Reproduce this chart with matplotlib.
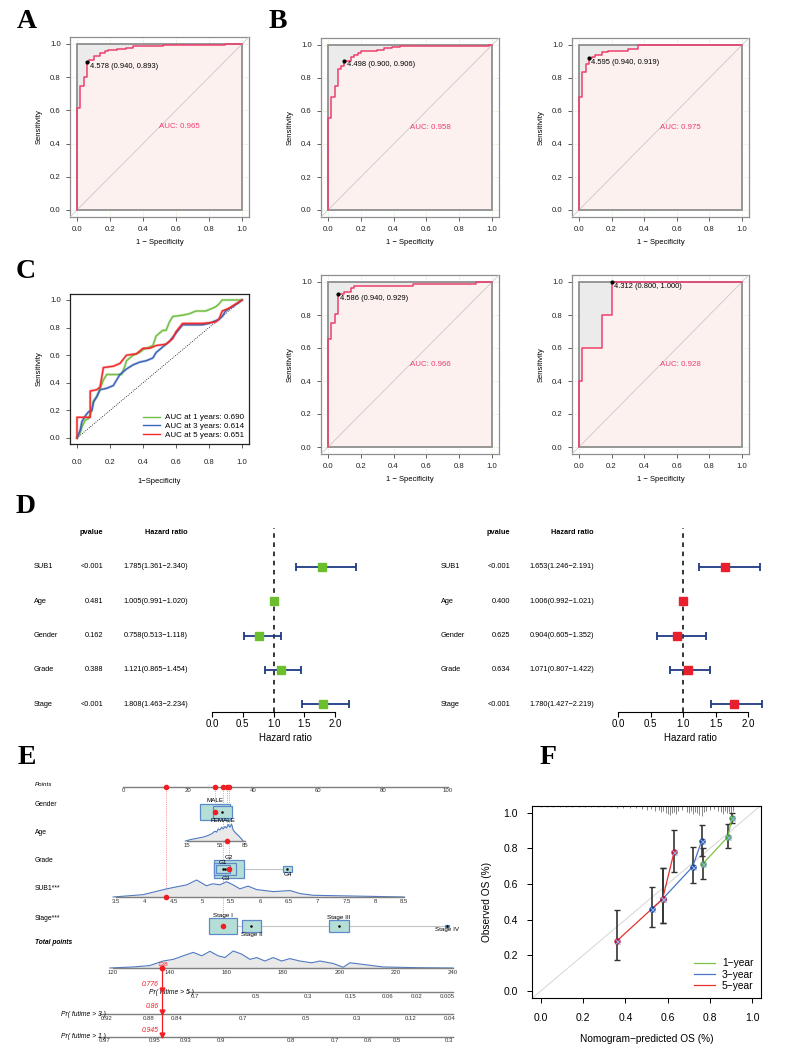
import numpy as np
import matplotlib
matplotlib.use("Agg")
import matplotlib.pyplot as plt
import matplotlib.transforms as mtransforms
from matplotlib.patches import Rectangle

plt.rcParams["font.family"] = ["Liberation Sans", "DejaVu Sans"]

# ---------------- ROC curves (A, B) : step vertices ----------------
a_fpr = [0.00, 0.00, 0.02, 0.04, 0.06, 0.07, 0.10, 0.14, 0.17, 0.19, 0.24, 0.30, 0.34, 0.38, 0.52, 0.90, 1.00]
a_tpr = [0.00, 0.614, 0.745, 0.800, 0.893, 0.905, 0.925, 0.945, 0.955, 0.965, 0.970, 0.975, 0.985, 0.990, 0.995, 1.000, 1.000]
b1_fpr = [0.00, 0.00, 0.02, 0.04, 0.06, 0.08, 0.10, 0.14, 0.16, 0.18, 0.20, 0.30, 0.34, 0.39, 0.44, 0.98, 1.00]
b1_tpr = [0.00, 0.556, 0.683, 0.754, 0.855, 0.875, 0.906, 0.925, 0.940, 0.953, 0.966, 0.970, 0.980, 0.988, 0.994, 1.000, 1.000]
b2_fpr = [0.00, 0.00, 0.02, 0.04, 0.06, 0.08, 0.10, 0.14, 0.18, 0.30, 0.36, 1.00]
b2_tpr = [0.00, 0.687, 0.838, 0.884, 0.919, 0.925, 0.940, 0.955, 0.965, 0.975, 1.000, 1.000]
b3_fpr = [0.00, 0.00, 0.02, 0.04, 0.06, 0.10, 0.14, 0.16, 0.52, 0.90, 1.00]
b3_tpr = [0.00, 0.657, 0.752, 0.808, 0.929, 0.940, 0.965, 0.976, 0.985, 1.000, 1.000]
b4_fpr = [0.00, 0.00, 0.02, 0.14, 0.20, 1.00]
b4_tpr = [0.00, 0.40, 0.60, 0.80, 1.00, 1.00]

roc_cut = [(0.06, 0.893), (0.10, 0.906), (0.06, 0.919), (0.06, 0.929), (0.20, 1.000)]
roc_cut_text = ["4.578 (0.940, 0.893)", "4.498 (0.900, 0.906)", "4.595 (0.940, 0.919)",
                "4.586 (0.940, 0.929)", "4.312 (0.800, 1.000)"]
roc_auc = ["0.965", "0.958", "0.975", "0.966", "0.928"]

# ---------------- time-dependent ROC (C) ----------------
c1_fpr = [0, 0.02, 0.03, 0.05, 0.07, 0.09, 0.10, 0.12, 0.14, 0.16, 0.18, 0.27, 0.29, 0.30, 0.34, 0.38, 0.40,
          0.44, 0.46, 0.48, 0.52, 0.54, 0.56, 0.58, 0.64, 0.68, 0.72, 0.78, 0.80, 0.84, 0.86, 0.88, 1.0]
c1_tpr = [0, 0.04, 0.08, 0.13, 0.14, 0.20, 0.27, 0.30, 0.36, 0.42, 0.46, 0.46, 0.52, 0.56, 0.60, 0.62, 0.64,
          0.66, 0.67, 0.74, 0.78, 0.78, 0.84, 0.88, 0.89, 0.90, 0.92, 0.92, 0.93, 0.95, 0.97, 1.0, 1.0]
c3_fpr = [0, 0.02, 0.03, 0.05, 0.07, 0.09, 0.10, 0.12, 0.14, 0.18, 0.22, 0.24, 0.26, 0.30, 0.34, 0.38, 0.42,
          0.46, 0.48, 0.52, 0.56, 0.60, 0.64, 0.70, 0.76, 0.80, 0.84, 0.86, 0.88, 0.90, 0.94, 0.98, 1.0]
c3_tpr = [0, 0.06, 0.12, 0.16, 0.19, 0.20, 0.26, 0.30, 0.35, 0.36, 0.38, 0.42, 0.46, 0.50, 0.53, 0.55, 0.56,
          0.58, 0.62, 0.66, 0.70, 0.76, 0.82, 0.82, 0.82, 0.83, 0.85, 0.86, 0.88, 0.92, 0.95, 0.98, 1.0]
c5_fpr = [0, 0, 0.08, 0.08, 0.12, 0.14, 0.16, 0.22, 0.26, 0.30, 0.36, 0.40, 0.44, 0.48, 0.54, 0.58, 0.60,
          0.64, 0.76, 0.84, 0.86, 0.88, 0.92, 0.96, 1.0]
c5_tpr = [0, 0.15, 0.15, 0.34, 0.35, 0.37, 0.51, 0.52, 0.54, 0.60, 0.61, 0.65, 0.65, 0.67, 0.68, 0.72, 0.77,
          0.83, 0.83, 0.84, 0.86, 0.92, 0.94, 0.97, 1.0]
c_labels = ["AUC at 1 years: 0.690", "AUC at 3 years: 0.614", "AUC at 5 years: 0.651"]

# ---------------- Cox forest plots (D) ----------------
forest_vars = ["SUB1", "Age", "Gender", "Grade", "Stage"]
uni_p = ["<0.001", "0.481", "0.162", "0.388", "<0.001"]
uni_hr = [1.785, 1.005, 0.758, 1.121, 1.808]
uni_lo = [1.361, 0.991, 0.513, 0.865, 1.463]
uni_hi = [2.340, 1.020, 1.118, 1.454, 2.234]
multi_p = ["<0.001", "0.400", "0.625", "0.634", "<0.001"]
multi_hr = [1.653, 1.006, 0.904, 1.071, 1.780]
multi_lo = [1.246, 0.992, 0.605, 0.807, 1.427]
multi_hi = [2.191, 1.021, 1.352, 1.422, 2.219]
hr_ticks = [0.0, 0.5, 1.0, 1.5, 2.0]

# ---------------- nomogram (E) ----------------
points_ticks = [0, 20, 40, 60, 80, 100]
gender_levels = ["MALE", "FEMALE"]
gender_pts = [28.3, 30.6]
gender_share = [0.53, 0.23]
age_range = [15, 85]
age_pts_range = [19.7, 37.5]
age_ticks = [15, 55, 85]
age_grid = [13, 18.6, 26.7, 34.7, 40.7, 44.8, 48.8, 50.8, 52.8, 54.8, 56.9, 58.8, 60.8, 62.9, 64.8,
            66.9, 68.9, 70.8, 72.9, 74.9, 78.9, 83]
age_dens = [0, 1.3, 2.7, 4.0, 5.7, 7.3, 10.0, 9.0, 12.3, 11.3, 14.0, 12.3, 14.7, 13.3, 16.7,
            14.0, 17.3, 11.3, 9.0, 7.3, 4.0, 0]
grade_levels = ["G1", "G2", "G3", "G4"]
grade_pts = [30.7, 32.7, 31.5, 50.6]
grade_share = [0.12, 0.56, 0.30, 0.05]
sub1_range = [3.5, 8.5]
sub1_pts_range = [-2.15, 86.5]
sub1_ticks = [3.5, 4, 4.5, 5, 5.5, 6, 6.5, 7, 7.5, 8, 8.5]
sub1_grid = [3.45, 3.97, 4.38, 4.73, 4.90, 5.07, 5.18, 5.30, 5.42, 5.53, 5.65, 5.79, 5.94, 6.23,
             6.52, 6.70, 6.92, 7.27, 7.85, 8.50]
sub1_dens = [0.0, 2.3, 8.0, 12.0, 16.7, 11.0, 13.0, 12.0, 15.0, 12.0, 8.0, 10.7, 7.3, 5.3,
             6.3, 3.3, 1.7, 1.3, 0.7, 0.0]
stage_levels = ["Stage I", "Stage II", "Stage III", "Stage IV"]
stage_pts = [30.7, 39.5, 66.5, 99.7]
stage_share = [0.49, 0.23, 0.25, 0.006]
total_range = [120, 240]
total_pts_range = [-3.17, 101.5]
total_ticks = [120, 140, 160, 180, 200, 220, 240]
total_grid = [119, 127.3, 133, 137.8, 141.4, 144.9, 148.4, 151.4, 154.3, 157.2, 159.6, 162.5, 165.5,
              168.4, 170.8, 173.7, 176.6, 179.6, 182.5, 186, 190.2, 193.1, 197.8, 201.3, 203.7,
              209.6, 215.4, 227.2, 240]
total_dens = [0, 1, 2.3, 6.7, 8.3, 11.7, 15, 11.7, 16, 11.7, 10, 16.3, 13.3,
              8.3, 10, 6.7, 10, 6.7, 9, 6.7, 5, 6.7, 4.3, 0.7, 5,
              3, 1, 0.3, 0]
pr5_labels = ["0.7", "0.5", "0.3", "0.15", "0.06", "0.02", "0.005"]
pr5_at = [149.0, 170.5, 188.9, 204.0, 217.1, 227.3, 237.9]
pr3_labels = ["0.92", "0.88", "0.84", "0.7", "0.5", "0.3", "0.12", "0.04"]
pr3_at = [118.0, 132.8, 142.7, 165.9, 188.2, 206.1, 225.2, 238.9]
pr1_labels = ["0.97", "0.95", "0.93", "0.9", "0.8", "0.7", "0.6", "0.5", "0.3"]
pr1_at = [117.3, 134.6, 145.8, 158.2, 182.9, 198.4, 210.0, 220.2, 238.6]
pr_axis_start = [146.6, 115.5, 115.5]
pat_gender, pat_age, pat_grade, pat_sub1, pat_stage = 0, 63.3, 1, 4.36, 0
pat_total = 137.5
pat_surv = ["0.776", "0.86", "0.945"]

# ---------------- calibration (F) ----------------
cal1_pred = [0.765, 0.885, 0.903]
cal1_obs = [0.712, 0.865, 0.968]
cal1_lo = [0.628, 0.800, 0.940]
cal1_hi = [0.800, 0.935, 1.000]
cal3_pred = [0.524, 0.576, 0.718, 0.761]
cal3_obs = [0.458, 0.516, 0.697, 0.843]
cal3_lo = [0.357, 0.383, 0.604, 0.757]
cal3_hi = [0.585, 0.688, 0.809, 0.931]
cal5_pred = [0.359, 0.576, 0.630]
cal5_obs = [0.280, 0.516, 0.778]
cal5_lo = [0.174, 0.383, 0.665]
cal5_hi = [0.454, 0.688, 0.903]
rug_x = [0.00, 0.03, 0.06, 0.09, 0.12, 0.15, 0.18, 0.21, 0.24, 0.27, 0.30, 0.33, 0.36, 0.39, 0.42, 0.45,
         0.48, 0.50, 0.52, 0.54, 0.56, 0.57, 0.58, 0.59, 0.60, 0.61, 0.62, 0.63, 0.64, 0.65, 0.67, 0.69,
         0.70, 0.71, 0.72, 0.73, 0.74, 0.75, 0.76, 0.77, 0.78, 0.80, 0.82, 0.84, 0.85, 0.86, 0.87, 0.88,
         0.89, 0.90, 0.91]
rug_n = [1, 1, 1, 1, 1, 1, 1, 1, 1, 1, 1.5, 1.5, 2, 2, 2, 2.5,
         3, 4, 3, 5, 4, 6, 5, 7, 8, 9, 7, 6, 8, 5, 4, 6,
         7, 5, 8, 6, 7, 9, 10, 6, 5, 4, 3, 5, 6, 8, 5, 7,
         6, 8, 5]
cal_labels = ["1\u2212year", "3\u2212year", "5\u2212year"]

W, H = 787, 1061
fig = plt.figure(figsize=(W / 100, H / 100), dpi=100)

PINK = "#EE3F6D"
MINUS = "\u2212"


def px_axes(left, top, right, bottom):
    return fig.add_axes([left / W, 1 - bottom / H, (right - left) / W, (bottom - top) / H])


def data_axes(xa, xb, pa, pb, ya, yb, qa, qb, xlim, ylim):
    """axes where data xa->pixel pa, xb->pb and ya->qa, yb->qb"""
    sx = (pb - pa) / (xb - xa)
    sy = (qb - qa) / (yb - ya)
    left = pa + (xlim[0] - xa) * sx
    right = pa + (xlim[1] - xa) * sx
    y_lo = qa + (ylim[0] - ya) * sy
    y_hi = qa + (ylim[1] - ya) * sy
    ax = px_axes(left, min(y_lo, y_hi), right, max(y_lo, y_hi))
    ax.set_xlim(xlim)
    ax.set_ylim(ylim)
    return ax


def roc_axes(x0, x1, y1, y0, frame_col):
    ax = data_axes(0, 1, x0, x1, 0, 1, y0, y1, (-0.04, 1.04), (-0.04, 1.04))
    ticks = [0, 0.2, 0.4, 0.6, 0.8, 1.0]
    ax.set_xticks(ticks)
    ax.set_yticks(ticks)
    ax.set_xticklabels([f"{t:.1f}" for t in ticks])
    ax.set_yticklabels([f"{t:.1f}" for t in ticks])
    ax.tick_params(labelsize=5.6, length=3, width=0.6, color="#444444", pad=4, labelcolor="#222222")
    for s in ax.spines.values():
        s.set_color(frame_col)
        s.set_linewidth(0.9)
    ax.set_ylabel("Sensitivity", fontsize=5.5, labelpad=5)
    return ax


def roc_panel(x0, x1, y1, y0, fpr, tpr, k):
    ax = roc_axes(x0, x1, y1, y0, "#8F8F8F")
    ax.set_xlabel("1 " + MINUS + " Specificity", fontsize=5.5, labelpad=4)
    for g in [0, 0.2, 0.4, 0.6, 0.8, 1.0]:
        ax.axvline(g, color="#CFE6B8", ls=":", lw=0.6, zorder=0)
        ax.axhline(g, color="#CFE6B8", ls=":", lw=0.6, zorder=0)
    ax.add_patch(Rectangle((0, 0), 1, 1, facecolor="#EBEBEB", edgecolor="none", zorder=1))
    ax.fill_between(fpr, tpr, 0, step="post", color="#FCF1EF", lw=0, zorder=2)
    ax.add_patch(Rectangle((0, 0), 1, 1, facecolor="none", edgecolor="#8F8F8F", lw=1.3, zorder=3))
    ax.axline((0, 0), (1, 1), color="#C9C9C9", lw=0.6, zorder=3)
    ax.plot(fpr, tpr, drawstyle="steps-post", color=PINK, lw=1.1, zorder=4)
    cx, cy = roc_cut[k]
    ax.plot([cx], [cy], "o", color="black", ms=2.0, zorder=5)
    ax.text(cx + 0.016, cy - 0.026, roc_cut_text[k], fontsize=5.4, va="center", ha="left", zorder=6)
    ax.text(0.5, 0.5, "AUC: " + roc_auc[k], color=PINK, fontsize=5.7, va="center", ha="left", zorder=6)
    return ax


# panel letters
for letter, (lx, ly) in zip("ABCDEF", [(27, 22), (278, 22), (26, 271), (26, 506), (27, 757), (548, 757)]):
    fig.text(lx / W, 1 - ly / H, letter, fontsize=20, fontweight="bold", family="Liberation Serif",
             ha="center", va="center")

# A and B
roc_panel(77, 242, 44, 210, a_fpr, a_tpr, 0)
roc_panel(328, 492, 45, 210, b1_fpr, b1_tpr, 1)
roc_panel(579, 742, 45, 210, b2_fpr, b2_tpr, 2)
roc_panel(328, 492, 282, 447, b3_fpr, b3_tpr, 3)
roc_panel(579, 742, 282, 447, b4_fpr, b4_tpr, 4)

# C
ax_c = roc_axes(77, 242, 300, 438, "#222222")
ax_c.set_xlabel("1" + MINUS + "Specificity", fontsize=5.5, labelpad=9)
ax_c.tick_params(axis="x", pad=8)
ax_c.plot([0, 1], [0, 1], color="black", ls=":", lw=0.6)
c_colors = ["#72BF44", "#3A64B8", "#EE2A2A"]
for fx, ty, col, lab in zip([c1_fpr, c3_fpr, c5_fpr], [c1_tpr, c3_tpr, c5_tpr], c_colors, c_labels):
    ax_c.plot(fx, ty, color=col, lw=1.9, alpha=0.35, solid_joinstyle="miter")
    ax_c.plot(fx, ty, color=col, lw=1.0, label=lab)
ax_c.legend(loc="lower right", frameon=False, fontsize=5.8, handlelength=2.1, labelspacing=0.12,
            borderaxespad=0.2, borderpad=0.4, handletextpad=0.6)


# D: forest plots
def forest(ax0, upx, lab_x, p_x, hr_x, pv, hr, lo, hi, col, xr):
    ax = data_axes(0, 1, ax0, ax0 + upx, 1, 5, 704, 567,
                   ((xr[0] - ax0) / upx, (xr[1] - ax0) / upx), (0.766, 6.372))
    rows = np.arange(5, 0, -1)
    hr = np.array(hr)
    ax.plot([1, 1], [0.766, 6.13], color="black", lw=1.1, ls=(0, (3, 3)), zorder=1)
    ax.errorbar(hr, rows, xerr=[hr - np.array(lo), np.array(hi) - hr], fmt="none", ecolor="#1E3A85",
                elinewidth=1.3, capsize=2.6, capthick=1.3, zorder=2)
    ax.plot(hr, rows, "s", color=col, ms=6, zorder=3)
    for s in ["top", "right", "left"]:
        ax.spines[s].set_visible(False)
    ax.spines["bottom"].set_bounds(0, 2)
    ax.spines["bottom"].set_linewidth(0.8)
    ax.set_yticks([])
    ax.set_xticks(hr_ticks)
    ax.set_xticklabels([f"{t:.1f}" for t in hr_ticks])
    ax.tick_params(axis="x", labelsize=7, length=3.5, width=0.8, pad=1.5)
    ax.set_xlabel("Hazard ratio", fontsize=7, labelpad=3)
    tr = mtransforms.blended_transform_factory(fig.transFigure, ax.transData)
    ax.text(p_x / W, 6.02, "pvalue", transform=tr, ha="right", va="center", fontsize=5.3, fontweight="bold")
    ax.text(hr_x / W, 6.02, "Hazard ratio", transform=tr, ha="right", va="center", fontsize=5.3,
            fontweight="bold")
    for r, name, p, h, l, u in zip(rows, forest_vars, pv, hr, lo, hi):
        ax.text(lab_x / W, r, name, transform=tr, ha="left", va="center", fontsize=5.3)
        ax.text(p_x / W, r, p, transform=tr, ha="right", va="center", fontsize=5.3)
        ax.text(hr_x / W, r, f"{h:.3f}({l:.3f}{MINUS}{u:.3f})", transform=tr, ha="right", va="center",
                fontsize=5.3)


forest(212, 61.5, 34, 103, 188, uni_p, uni_hr, uni_lo, uni_hi, "#6CBF2C", (190, 380))
forest(618, 65, 441, 510, 594, multi_p, multi_hr, multi_lo, multi_hi, "#E8202E", (600, 780))

# E: nomogram, x in points, y in pixel rows
PPX = 3.25
ax_e = data_axes(0, 100, 123, 448, 770, 1061, 770, 1061, ((0 - 123) / PPX, (470 - 123) / PPX), (1061, 770))
ax_e.axis("off")
Y_PTS, Y_GEN, Y_AGE, Y_GRD, Y_SUB, Y_STG, Y_TOT = 787, 812, 841, 869, 897, 926, 968
Y_PR = [992, 1014, 1037]
LAB_X = (35 - 123) / PPX
AXC = "#7F7F7F"
TK = dict(fontsize=4.3, color="#333333", ha="center", va="top")
RED = "#F01E23"


def lin(v, vr, pr):
    return pr[0] + (np.asarray(v, dtype=float) - vr[0]) * (pr[1] - pr[0]) / (vr[1] - vr[0])


for lab, y, style in [("Points", 784, "italic"), ("Gender", 804, "normal"), ("Age", 833, "normal"),
                      ("Grade", 861, "normal"), ("SUB1***", 889, "normal"), ("Stage***", 918, "normal")]:
    ax_e.text(LAB_X, y, lab, fontsize=4.9 if lab != "Points" else 4.5, style=style, va="center", ha="left")
ax_e.text(LAB_X, 943, "Total points", fontsize=4.8, style="italic", fontweight="bold", va="center")

# points scale
ax_e.plot([0, 100], [Y_PTS, Y_PTS], color=AXC, lw=1.0)
for t in points_ticks:
    ax_e.text(t, Y_PTS + 1.5, str(t), **TK)


def density(xs, dens, y, ticks, fmt):
    xs = np.asarray(xs)
    h = np.asarray(dens) / max(dens) * 17
    ax_e.fill_between(xs, y, y - h, color="#E9E9E9", lw=0, zorder=1)
    ax_e.plot(xs, y - h, color="#4F79C0", lw=0.8, zorder=2)
    ax_e.plot([ticks[0], ticks[-1]], [y, y], color=AXC, lw=1.0, zorder=2)
    for t, s in zip(ticks, fmt):
        ax_e.text(t, y + 2, s, **TK)


def boxes(pts, share, y, names, sides, pat):
    ax_e.plot([min(pts), max(pts)], [y, y], color="#C4C4C4", lw=0.8, zorder=1)
    order = np.argsort(share)[::-1]
    for i in order:
        w = 40 * np.sqrt(share[i])
        h = 0.58 * w
        ax_e.add_patch(Rectangle((pts[i] - w / 2 / PPX, y - h / 2), w / PPX, h, facecolor="#B5DED6",
                                 edgecolor="#5C8ACB", lw=0.9, zorder=2))
        if i != pat:
            ax_e.plot([pts[i]], [y], "o", color="black", ms=0.8, zorder=3)
        if sides[i] == "up":
            ax_e.text(pts[i], y - h / 2 - 0.3, names[i], fontsize=4.5, ha="center", va="bottom", zorder=4)
        else:
            ax_e.text(pts[i], y + h / 2 + 0.3, names[i], fontsize=4.5, ha="center", va="top", zorder=4)
    ax_e.plot([pts[pat]], [y], "o", color=RED, ms=3, zorder=5)


boxes(gender_pts, gender_share, Y_GEN, gender_levels, ["up", "down"], pat_gender)
density(lin(age_grid, age_range, age_pts_range), age_dens, Y_AGE,
        lin(age_ticks, age_range, age_pts_range), [str(a) for a in age_ticks])
boxes(grade_pts, grade_share, Y_GRD, grade_levels, ["up", "up", "down", "down"], pat_grade)
density(lin(sub1_grid, sub1_range, sub1_pts_range), sub1_dens, Y_SUB,
        lin(sub1_ticks, sub1_range, sub1_pts_range), [f"{v:g}" for v in sub1_ticks])
boxes(stage_pts, stage_share, Y_STG, stage_levels, ["up", "down", "up", "down"], pat_stage)
density(lin(total_grid, total_range, total_pts_range), total_dens, Y_TOT,
        lin(total_ticks, total_range, total_pts_range), [str(t) for t in total_ticks])

# patient points
p_age = float(lin(pat_age, age_range, age_pts_range))
p_sub = float(lin(pat_sub1, sub1_range, sub1_pts_range))
pat_marks = [(gender_pts[pat_gender], Y_GEN), (p_age, Y_AGE), (grade_pts[pat_grade], Y_GRD),
             (p_sub, Y_SUB), (stage_pts[pat_stage], Y_STG)]
for px_, py_ in pat_marks:
    ax_e.plot([px_, px_], [Y_PTS, py_], color=RED, lw=0.5, ls=":", alpha=0.8, zorder=0)
    ax_e.plot([px_], [Y_PTS], "o", color=RED, ms=3, zorder=5)
ax_e.plot([p_age], [Y_AGE], "o", color=RED, ms=3, zorder=5)
ax_e.plot([p_sub], [Y_SUB], "o", color=RED, ms=3, zorder=5)

# probability scales
t_x = float(lin(pat_total, total_range, total_pts_range))
for y, labs, at, st in zip(Y_PR, [pr5_labels, pr3_labels, pr1_labels], [pr5_at, pr3_at, pr1_at],
                           pr_axis_start):
    xs = lin([st, 240], total_range, total_pts_range)
    ax_e.plot(xs, [y, y], color=AXC, lw=1.0)
    for lab, a in zip(labs, at):
        ax_e.text(float(lin(a, total_range, total_pts_range)), y + 1.5, lab, **TK)
for y, lab, yr in zip(Y_PR, ["Pr( futime > 5 )", "Pr( futime > 3 )", "Pr( futime > 1 )"], pr_axis_start):
    ax_e.text(float(lin(yr, total_range, total_pts_range)) + 6 / PPX, y, lab, fontsize=4.9,
              style="italic", ha="right", va="center")
ax_e.plot([t_x, t_x], [Y_TOT, Y_PR[2]], color=RED, lw=0.9, zorder=4)
ax_e.plot([t_x], [Y_TOT], "o", color=RED, ms=3.2, zorder=5)
ax_e.text(t_x, Y_TOT - 1.5, str(round(pat_total)), color=RED, fontsize=4.6, ha="center", va="bottom", zorder=5)
for y, s in zip(Y_PR, pat_surv):
    ax_e.plot([t_x], [y - 2], "v", color=RED, ms=3.5, zorder=5)
    ax_e.text(t_x - 1.2, y - 7, s, color=RED, fontsize=4.9, style="italic", ha="right", va="center")

# F: calibration
ax_f = data_axes(0, 1, 540.7, 752.3, 0, 1, 991, 812.7, (-0.04, 1.04), (-0.04, 1.04))
ax_f.axline((0, 0), (1, 1), color="#DADADA", lw=0.8, zorder=0)
ax_f.vlines(rug_x, 1.04 - np.array(rug_n) / 178.3, 1.04, color="#555555", lw=0.5, zorder=1)
cal_cols = ["#7DC242", "#4A74C4", "#E5322D"]
dot_cols = ["#4C9A3A", "#1C3F8E", "#C8102E"]
for pred, obs, lo, hi, col, dc, lab in zip([cal1_pred, cal3_pred, cal5_pred], [cal1_obs, cal3_obs, cal5_obs],
                                        [cal1_lo, cal3_lo, cal5_lo], [cal1_hi, cal3_hi, cal5_hi],
                                        cal_cols, dot_cols, cal_labels):
    obs_a = np.array(obs)
    ax_f.errorbar(pred, obs, yerr=[obs_a - np.array(lo), np.array(hi) - obs_a], fmt="none",
                  ecolor="#333333", elinewidth=1.2, capsize=2, capthick=1.0, zorder=2)
    ax_f.plot(pred, obs, color=col, lw=0.9, zorder=3, label=lab)
    ax_f.plot(pred, obs, "o", color=dc, ms=3.6, zorder=4)
    ax_f.plot(pred, obs, "x", color="#8DB3E8", ms=3.6, mew=0.8, zorder=5)
ticks = [0, 0.2, 0.4, 0.6, 0.8, 1.0]
ax_f.set_xticks(ticks)
ax_f.set_yticks(ticks)
ax_f.set_xticklabels([f"{t:.1f}" for t in ticks])
ax_f.set_yticklabels([f"{t:.1f}" for t in ticks])
ax_f.tick_params(labelsize=7.5, length=3.5, width=0.7, pad=7)
for s in ax_f.spines.values():
    s.set_linewidth(0.8)
ax_f.set_xlabel("Nomogram" + MINUS + "predicted OS (%)", fontsize=7.3, labelpad=8)
ax_f.set_ylabel("Observed OS (%)", fontsize=7.3, labelpad=8)
ax_f.legend(loc="lower right", frameon=False, fontsize=7.4, handlelength=2.0, labelspacing=0.12,
            borderaxespad=0.3, handletextpad=0.7)

fig.savefig("out.png", dpi=100)
